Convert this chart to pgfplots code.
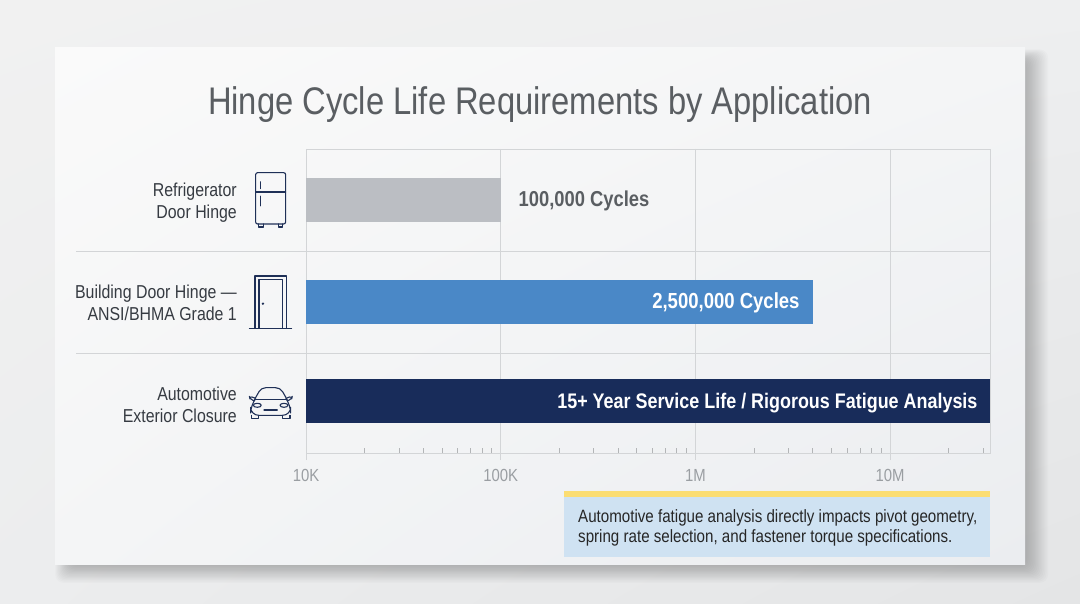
\documentclass[border=0pt]{standalone}
\usepackage{fontspec}
\usepackage{pgfplots}
\pgfplotsset{compat=1.18}
\usetikzlibrary{shadings}
\setmainfont{Liberation Sans}
\newfontfamily\cf[FakeStretch=0.85]{Liberation Sans}
\definecolor{gridc}{HTML}{D3D5D7}
\definecolor{greybar}{HTML}{BBBEC3}
\definecolor{bluebar}{HTML}{4A88C7}
\definecolor{navybar}{HTML}{182C5A}
\definecolor{icon}{HTML}{1F3057}
\definecolor{lab}{HTML}{363B42}
\definecolor{ttl}{HTML}{5A5E62}
\definecolor{tickc}{HTML}{9A9EA2}
\definecolor{callout}{HTML}{CFE2F2}
\definecolor{yel}{HTML}{FBDD72}
\definecolor{bga}{HTML}{F1F1F1}
\definecolor{bgb}{HTML}{EEEFF0}
\definecolor{bgc}{HTML}{ECEDEE}
\definecolor{bgd}{HTML}{E4E5E6}
\definecolor{cda}{HTML}{FAFAFA}
\definecolor{cdb}{HTML}{F4F5F6}
\definecolor{cdd}{HTML}{EBEDF0}
\begin{document}
\begin{tikzpicture}
\useasboundingbox (0pt,0pt) rectangle (1080pt,603pt);
\begin{scope}[x=1pt,y=-1pt,yshift=603pt]
\shade[upper left=bga,upper right=bgb,lower left=bgc,lower right=bgd] (0,0) rectangle (1080,603);
\foreach \d in {0,1.5,...,21}{
  \fill[black,opacity=0.014,rounded corners=8pt] ({70-0.7*\d},{60-0.5*\d}) rectangle ({1027+\d},{566+0.8*\d});
}
\shade[upper left=cda,upper right=cdb,lower left=cdb,lower right=cdd] (55,48) rectangle (1025,565);
\node[anchor=base,font=\cf\fontsize{38.5}{40}\selectfont,text=ttl,inner sep=0pt] at (540,115) {Hinge Cycle Life Requirements by Application};
\draw[gridc,line width=0.8pt] (76,251)--(990,251) (76,353)--(990,353);
\end{scope}
\begin{axis}[
  at={(306pt,150pt)},anchor=south west,
  scale only axis,width=684pt,height=304pt,
  xmode=log,log basis x=10,log origin x=infty,
  xmin=10000,xmax=32640000,
  ymin=149,ymax=453,y dir=reverse,
  ytick=\empty,
  xtick={10000,100000,1000000,10000000},
  xticklabels={10K,100K,1M,10M},
  minor xtick={20000,30000,40000,50000,60000,70000,80000,90000,200000,300000,400000,500000,600000,700000,800000,900000,2000000,3000000,4000000,5000000,6000000,7000000,8000000,9000000,20000000,30000000},
  xtick pos=bottom,
  tick align=outside,
  major tick length=7pt,
  minor tick length=5pt,
  minor x tick style={yshift=5pt,draw=gridc!85!black,line width=0.6pt},
  major x tick style={draw=gridc,line width=0.8pt},
  xmajorgrids,
  major grid style={draw=gridc,line width=0.8pt},
  axis line style={draw=gridc,line width=0.8pt},
  tick label style={font=\cf\fontsize{17.5}{19}\selectfont,text=tickc},
  xticklabel style={yshift=-6pt},
  clip=false,
  xbar,bar shift=0pt,bar width=44pt,
]
\addplot[draw=none,fill=greybar] coordinates {(100000,200)};
\addplot[draw=none,fill=bluebar] coordinates {(4000000,302)};
\addplot[draw=none,fill=navybar] coordinates {(32640000,401)};
\node[anchor=west,font=\cf\bfseries\fontsize{21.6}{23}\selectfont,text=ttl,inner sep=0pt] at (axis cs:123500,201) {100,000 Cycles};
\node[anchor=east,font=\cf\bfseries\fontsize{21.8}{23}\selectfont,text=white,inner sep=0pt] at (axis cs:3440000,303) {2,500,000 Cycles};
\node[anchor=east,font=\cf\bfseries\fontsize{21.1}{23}\selectfont,text=white,inner sep=0pt] at (axis cs:28200000,403) {15+ Year Service Life / Rigorous Fatigue Analysis};
\end{axis}
\begin{scope}[x=1pt,y=-1pt,yshift=603pt]
\tikzset{lb/.style={anchor=base east,font=\cf\fontsize{18.7}{20}\selectfont,text=lab,inner sep=0pt}}
\node[lb] at (237,196.5) {Refrigerator};
\node[lb] at (237,218.5) {Door Hinge};
\node[lb] at (237,298.5) {Building Door Hinge —};
\node[lb] at (237,320.5) {ANSI/BHMA Grade 1};
\node[lb] at (237,400.5) {Automotive};
\node[lb] at (237,422.5) {Exterior Closure};
\fill[callout] (564,491) rectangle (990,557);
\fill[yel] (564,491) rectangle (990,497);
\tikzset{cb/.style={anchor=base west,font=\cf\fontsize{17.8}{19}\selectfont,text=black!85,inner sep=0pt}}
\node[cb] at (578,523) {Automotive fatigue analysis directly impacts pivot geometry,};
\node[cb] at (578,543) {spring rate selection, and fastener torque specifications.};
\end{scope}
\begin{scope}[x=0.3333pt,y=-0.3333pt,yshift=453pt,xshift=60pt,icon,line width=1.1pt,line join=round,line cap=round]
% fridge
\draw[rounded corners=2pt] (587,68) rectangle (677,222);
\draw (587,126)--(677,126);
\draw[line width=0.8pt] (600,95)--(600,116) (600,138)--(600,168);
\draw (596,222)--(596,231)--(610,231)--(610,222);
\draw (655,222)--(655,231)--(668,231)--(668,222);
% door
\draw (585,535)--(585,378)--(680,378)--(680,535);
\draw (597,535)--(597,389)--(668,389)--(668,535);
\draw (568,535)--(695,535);
\fill (609,461) circle (4);
% car
\draw[rounded corners=2pt] (584,748)--(600,720)--(612,713)--(652,713)--(665,720)--(681,748);
\draw (584,748)--(681,748);
\draw[rounded corners=3pt] (584,744)--(568,738)--(570,748)--(582,752);
\draw[rounded corners=3pt] (681,744)--(697,738)--(695,748)--(683,752);
\draw[rounded corners=8pt] (584,750)--(572,765)--(572,796)--(692,796)--(692,765)--(681,750);
\draw (574,796)--(574,806)--(596,806)--(596,796);
\draw (668,796)--(668,806)--(690,806)--(690,796);
\draw (592,766) ellipse (12 and 6);
\draw (672,766) ellipse (12 and 6);
\draw (612,780)--(652,780);
\end{scope}
\end{tikzpicture}
\end{document}
